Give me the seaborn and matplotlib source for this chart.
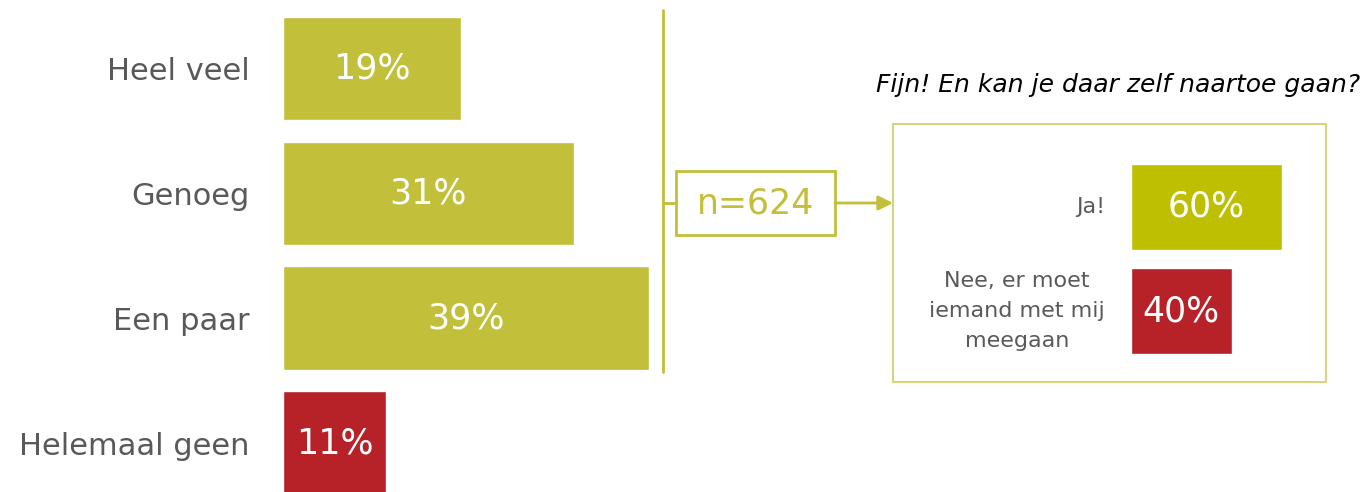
import matplotlib
matplotlib.use("Agg")
import matplotlib.pyplot as plt
import seaborn as sns
import pandas as pd
from matplotlib.patches import Rectangle, FancyArrowPatch

# --- data ---
categories = ["Heel veel", "Genoeg", "Een paar", "Helemaal geen"]
percentages = [19, 31, 39, 11]
bar_colors = ["#C2BF3A", "#C2BF3A", "#C2BF3A", "#B72228"]

follow_title = "Fijn! En kan je daar zelf naartoe gaan?"
follow_categories = ["Ja!", "Nee, er moet\niemand met mij\nmeegaan"]
follow_percentages = [60, 40]
follow_colors = ["#BEBF00", "#B72228"]

n_label = "n=624"

OLIVE = "#C2BF3A"
GREY = "#595959"

sns.set_theme(style="white")
plt.rcParams["font.family"] = ["DejaVu Sans"]

W, H = 1367, 492
fig = plt.figure(figsize=(W / 100, H / 100), dpi=100)

# overlay in pixel coordinates for connectors / boxes
over = fig.add_axes([0, 0, 1, 1])
over.set_xlim(0, W)
over.set_ylim(H, 0)
over.axis("off")


def px_axes(x0, y0, x1, y1):
    return fig.add_axes([x0 / W, 1 - y1 / H, (x1 - x0) / W, (y1 - y0) / H])


# --- main chart ---
ax = px_axes(283, 6, 658, 492)
df = pd.DataFrame({"cat": categories, "pct": percentages})
sns.barplot(data=df, x="pct", y="cat", hue="cat", palette=bar_colors,
            legend=False, width=0.83, ax=ax, saturation=1)
ax.set_xlim(0, 40)
ax.set_ylim(3.39, -0.5)
ax.set_xlabel("")
ax.set_ylabel("")
ax.set_xticks([])
ax.tick_params(axis="y", length=0, pad=24, labelsize=22, labelcolor=GREY)
for s in ax.spines.values():
    s.set_visible(False)
ax.patch.set_alpha(0)
for i, v in enumerate(percentages):
    ax.text(v / 2, i, f"{v}%", ha="center", va="center", color="white",
            fontsize=25)

# --- connector: vertical line, n box, arrow ---
over.plot([663, 663], [10, 372], color=OLIVE, lw=2)
over.plot([663, 676], [203, 203], color=OLIVE, lw=2)
over.add_patch(Rectangle((676, 171), 159, 64, fill=False, ec=OLIVE, lw=2))
over.text(755.5, 203, n_label, ha="center", va="center", color=OLIVE,
          fontsize=25)
over.add_patch(FancyArrowPatch((835, 203), (893, 203), arrowstyle="-|>",
                               mutation_scale=22, color=OLIVE, lw=2,
                               shrinkA=0, shrinkB=0))

# --- follow-up box ---
over.add_patch(Rectangle((893, 124), 433, 258, fill=False, ec="#D6D47E", lw=1.5))
over.text(1360, 85, follow_title, ha="right", va="center", color="black",
          fontsize=18, style="italic")

ax2 = px_axes(1131, 155, 1131 + 176, 363)
df2 = pd.DataFrame({"cat": follow_categories, "pct": follow_percentages})
sns.barplot(data=df2, x="pct", y="cat", hue="cat", palette=follow_colors,
            legend=False, width=0.83, ax=ax2, saturation=1)
ax2.set_xlim(0, 70)
ax2.set_ylim(1.5, -0.5)
ax2.set_xlabel("")
ax2.set_ylabel("")
ax2.set_xticks([])
ax2.set_yticks([])
for s in ax2.spines.values():
    s.set_visible(False)
ax2.patch.set_alpha(0)
for i, v in enumerate(follow_percentages):
    ax2.text(v / 2, i, f"{v}%", ha="center", va="center", color="white",
             fontsize=25)

# follow-up labels (multi-line centred)
over.text(1105, 207, follow_categories[0], ha="right", va="center",
          color=GREY, fontsize=16)
over.text(1017, 311, follow_categories[1], ha="center", va="center",
          color=GREY, fontsize=16, linespacing=1.6)

fig.savefig("out.png", dpi=100)
